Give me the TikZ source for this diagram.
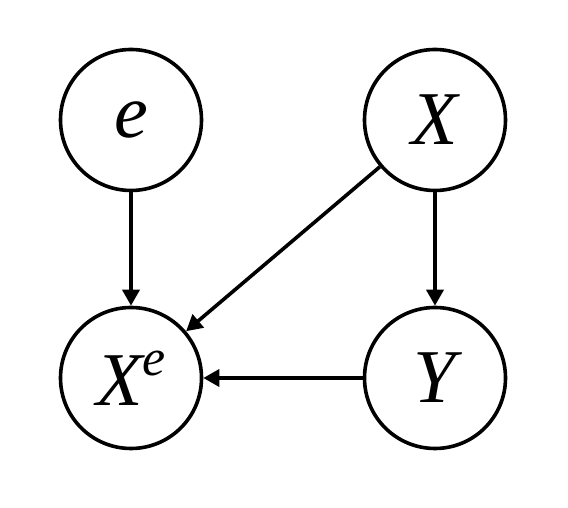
\documentclass[tikz,border=0pt]{standalone}
\usepackage{fontspec}
\setmainfont{Liberation Serif}
\usetikzlibrary{arrows.meta}
\tikzset{
  var/.style={circle,draw,line width=3.6pt,minimum size=141pt,inner sep=0pt,
    font=\fontsize{76}{80}\selectfont\itshape},
  edge/.style={line width=3.6pt,-{Triangle[length=16pt,width=17pt]}}
}
\begin{document}
\begin{tikzpicture}[x=1pt,y=1pt]
\useasboundingbox (0,0) rectangle (568,508);
\node[var] (e) at (131,388) {e};
\node[var] (X) at (435,388) {X};
\node[var] (Xe) at (131,130) {X\raisebox{0.4em}{\fontsize{52}{52}\selectfont e}};
\node[var] (Y) at (435,130) {Y};
\draw[edge] (e) -- (Xe);
\draw[edge] (X) -- (Y);
\draw[edge] (X) -- (Xe);
\draw[edge] (Y) -- (Xe);
\end{tikzpicture}
\end{document}
